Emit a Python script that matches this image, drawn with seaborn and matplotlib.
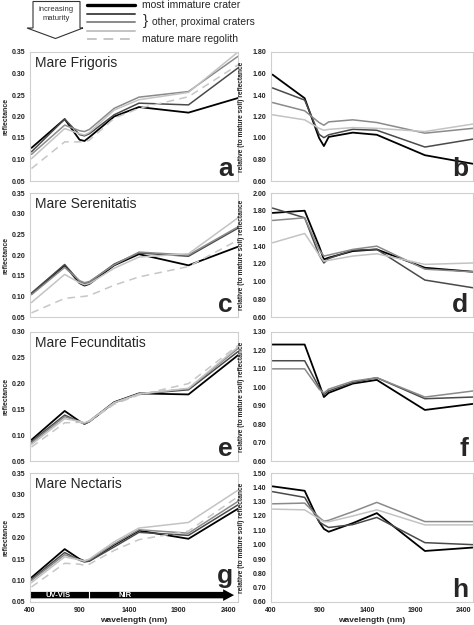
import matplotlib
matplotlib.use('Agg')
import matplotlib.pyplot as plt
from matplotlib.lines import Line2D
from matplotlib.patches import Polygon
from matplotlib.ticker import FormatStrFormatter
import seaborn as sns

# Clementine band centres (nm)
wavelength = [415, 750, 900, 950, 1000, 1250, 1500, 2000, 2500]

# Mare Frigoris - reflectance
a_black = [0.127, 0.194, 0.146, 0.143, 0.152, 0.200, 0.222, 0.209, 0.243]
a_dark = [0.118, 0.194, 0.158, 0.155, 0.160, 0.204, 0.231, 0.227, 0.313]
a_gray = [0.112, 0.180, 0.167, 0.165, 0.170, 0.219, 0.245, 0.258, 0.340]
a_light = [0.102, 0.172, 0.160, 0.157, 0.163, 0.215, 0.239, 0.256, 0.350]
a_mature = [0.079, 0.141, 0.141, 0.141, 0.145, 0.196, 0.219, 0.246, 0.320]

# Mare Frigoris - relative to mature soil
b_black = [1.59, 1.37, 1.00, 0.925, 1.01, 1.05, 1.03, 0.84, 0.76]
b_dark = [1.466, 1.353, 1.034, 1.003, 1.03, 1.081, 1.072, 0.916, 0.99]
b_gray = [1.33, 1.253, 1.144, 1.119, 1.15, 1.169, 1.144, 1.045, 1.09]
b_light = [1.216, 1.169, 1.09, 1.072, 1.08, 1.097, 1.09, 1.06, 1.13]

# Mare Serenitatis
c_black = [0.106, 0.175, 0.132, 0.126, 0.130, 0.175, 0.202, 0.175, 0.220]
c_dark = [0.108, 0.177, 0.136, 0.130, 0.134, 0.178, 0.205, 0.197, 0.265]
c_gray = [0.104, 0.170, 0.138, 0.133, 0.136, 0.176, 0.207, 0.200, 0.268]
c_light = [0.085, 0.153, 0.133, 0.128, 0.131, 0.168, 0.195, 0.203, 0.290]
c_mature = [0.060, 0.095, 0.099, 0.100, 0.102, 0.127, 0.147, 0.172, 0.236]

d_black = [1.775, 1.80, 1.40, 1.25, 1.27, 1.344, 1.363, 1.156, 1.111]
d_dark = [1.83, 1.72, 1.30, 1.21, 1.26, 1.355, 1.363, 1.017, 0.93]
d_gray = [1.69, 1.72, 1.36, 1.288, 1.30, 1.363, 1.40, 1.14, 1.11]
d_light = [1.438, 1.543, 1.30, 1.23, 1.24, 1.288, 1.314, 1.194, 1.21]

# Mare Fecunditatis
e_black = [0.091, 0.147, 0.127, 0.122, 0.127, 0.164, 0.181, 0.179, 0.255]
e_dark = [0.088, 0.139, 0.126, 0.122, 0.126, 0.163, 0.180, 0.188, 0.262]
e_gray = [0.085, 0.136, 0.126, 0.123, 0.127, 0.163, 0.180, 0.190, 0.268]
e_light = [0.082, 0.132, 0.127, 0.124, 0.128, 0.163, 0.180, 0.191, 0.271]
e_mature = [0.077, 0.124, 0.125, 0.123, 0.127, 0.160, 0.178, 0.200, 0.274]

f_black = [1.232, 1.232, 1.02, 0.947, 0.97, 1.02, 1.04, 0.877, 0.91]
f_dark = [1.144, 1.144, 1.00, 0.96, 0.98, 1.026, 1.052, 0.938, 0.947]
f_gray = [1.10, 1.10, 0.99, 0.969, 0.99, 1.033, 1.052, 0.947, 0.98]

# Mare Nectaris
g_black = [0.107, 0.173, 0.150, 0.145, 0.146, 0.183, 0.216, 0.197, 0.267]
g_dark = [0.103, 0.165, 0.147, 0.143, 0.145, 0.178, 0.212, 0.205, 0.276]
g_gray = [0.100, 0.160, 0.148, 0.146, 0.148, 0.185, 0.218, 0.210, 0.284]
g_light = [0.095, 0.155, 0.148, 0.145, 0.150, 0.190, 0.222, 0.235, 0.310]
g_mature = [0.085, 0.140, 0.138, 0.135, 0.138, 0.170, 0.195, 0.215, 0.295]

h_black = [1.407, 1.376, 1.16, 1.11, 1.09, 1.15, 1.22, 0.956, 0.98]
h_dark = [1.37, 1.33, 1.16, 1.138, 1.12, 1.14, 1.19, 1.014, 1.00]
h_gray = [1.285, 1.29, 1.19, 1.164, 1.17, 1.23, 1.295, 1.161, 1.161]
h_light = [1.248, 1.243, 1.18, 1.16, 1.16, 1.20, 1.243, 1.138, 1.138]

maria = ['Mare Frigoris', 'Mare Serenitatis', 'Mare Fecunditatis', 'Mare Nectaris']
x_ticks = [400, 900, 1400, 1900, 2400]

sns.set_style('white')
plt.rcParams['font.family'] = ['Liberation Sans', 'DejaVu Sans']

colors = ['#000000', '#4a4a4a', '#8a8a8a', '#c3c3c3', '#c6c6c6']
W, H = 474, 625
fig = plt.figure(figsize=(W / 100, H / 100), dpi=100)

rows = [(52, 181), (193, 317), (332, 461), (473, 602)]
left_panels = [
    ([a_black, a_dark, a_gray, a_light, a_mature], (0.05, 0.35)),
    ([c_black, c_dark, c_gray, c_light, c_mature], (0.05, 0.35)),
    ([e_black, e_dark, e_gray, e_light, e_mature], (0.05, 0.30)),
    ([g_black, g_dark, g_gray, g_light, g_mature], (0.05, 0.35)),
]
right_panels = [
    ([b_black, b_dark, b_gray, b_light], (0.60, 1.80), 0.2),
    ([d_black, d_dark, d_gray, d_light], (0.60, 2.00), 0.2),
    ([f_black, f_dark, f_gray], (0.60, 1.30), 0.1),
    ([h_black, h_dark, h_gray, h_light], (0.60, 1.50), 0.1),
]
letters = ['a', 'b', 'c', 'd', 'e', 'f', 'g', 'h']


def frame(ax, ylim, step, bottom):
    ax.set_xlim(400, 2500)
    ax.set_ylim(*ylim)
    ax.set_xticks(x_ticks)
    n = int(round((ylim[1] - ylim[0]) / step))
    ax.set_yticks([ylim[0] + i * step for i in range(n + 1)])
    ax.yaxis.set_major_formatter(FormatStrFormatter('%.2f'))
    for s in ax.spines.values():
        s.set_color('#cfcfcf')
        s.set_linewidth(0.8)
    ax.tick_params(axis='both', length=2, width=0.6, color='#aaaaaa',
                   labelsize=5, pad=1.5, labelcolor='#222222')
    for lab in ax.get_yticklabels() + ax.get_xticklabels():
        lab.set_fontweight('bold')
    ax.tick_params(axis='x', labelbottom=bottom)
    if bottom:
        ax.set_xlabel('wavelength (nm)', fontsize=6, fontweight='bold', labelpad=2)


for i, (top, bot) in enumerate(rows):
    y0 = 1 - bot / H
    hh = (bot - top) / H
    axl = fig.add_axes([30 / W, y0, 208 / W, hh])
    series, ylim = left_panels[i]
    for j, vals in enumerate(series):
        ls = (0, (5, 3.5)) if j == 4 else '-'
        sns.lineplot(x=wavelength, y=vals, ax=axl, color=colors[j],
                     lw=1.3 if j == 0 else 1.1, linestyle=ls)
    frame(axl, ylim, 0.05, i == 3)
    axl.set_ylabel('reflectance', fontsize=5, fontweight='bold')
    axl.yaxis.set_label_coords(-0.1, 0.5)
    axl.text(0.025, 0.97, maria[i], transform=axl.transAxes, fontsize=10,
             va='top', ha='left')
    axl.text(0.975, 0.11 if i == 3 else 0.0, letters[2 * i], transform=axl.transAxes,
             fontsize=19, fontweight='bold', va='bottom', ha='right')

    axr = fig.add_axes([271 / W, y0, 202 / W, hh])
    series, ylim, step = right_panels[i]
    for j, vals in enumerate(series):
        sns.lineplot(x=wavelength, y=vals, ax=axr, color=colors[j],
                     lw=1.3 if j == 0 else 1.1)
    frame(axr, ylim, step, i == 3)
    axr.set_ylabel('relative (to mature soil) reflectance', fontsize=4.8,
                   fontweight='bold')
    axr.yaxis.set_label_coords(-0.13, 0.5)
    axr.text(0.975, 0.0, letters[2 * i + 1], transform=axr.transAxes, fontsize=19,
             fontweight='bold', va='bottom', ha='right')

    if i == 3:
        # UV-VIS / NIR arrow along the bottom of panel g
        axl.arrow(400, 0.066, 2060, 0, width=0.015, head_width=0.027,
                  head_length=110, length_includes_head=True, color='black', lw=0)
        axl.plot([1000, 1000], [0.057, 0.075], color='white', lw=0.8)
        axl.text(680, 0.066, 'UV-VIS', color='white', fontsize=5.5,
                 fontweight='bold', ha='center', va='center')
        axl.text(1360, 0.066, 'NIR', color='white', fontsize=5.5,
                 fontweight='bold', ha='center', va='center')


# header legend in pixel positions
def fx(x):
    return x / W


def fy(y):
    return 1 - y / H


box = [(33, 1.5), (80, 1.5), (80, 28), (83, 28), (55.5, 38.5), (27, 28), (33, 28)]
fig.add_artist(Polygon([(fx(x), fy(y)) for x, y in box], closed=True, fill=False,
                       edgecolor='#333333', lw=0.8, transform=fig.transFigure))
fig.text(fx(56), fy(14), 'increasing\nmaturity', fontsize=5.5, ha='center',
         va='center', color='#333333', linespacing=1.4)

leg_y = [5, 14, 22, 30.5, 39]
leg_w = [2.4, 1.4, 1.4, 1.4, 1.4]
for j, yy in enumerate(leg_y):
    ls = (0, (5, 3.5)) if j == 4 else '-'
    fig.add_artist(Line2D([fx(87), fx(135)], [fy(yy), fy(yy)], color=colors[j],
                          lw=leg_w[j], linestyle=ls, transform=fig.transFigure))
fig.text(fx(142), fy(5), 'most immature crater', fontsize=7.5, va='center')
fig.text(fx(143), fy(21), '}', fontsize=11, va='center', color='#333333')
fig.text(fx(152), fy(22), 'other, proximal craters', fontsize=7.5, va='center')
fig.text(fx(142), fy(39), 'mature mare regolith', fontsize=7.5, va='center')

fig.savefig('out.png', dpi=100)
